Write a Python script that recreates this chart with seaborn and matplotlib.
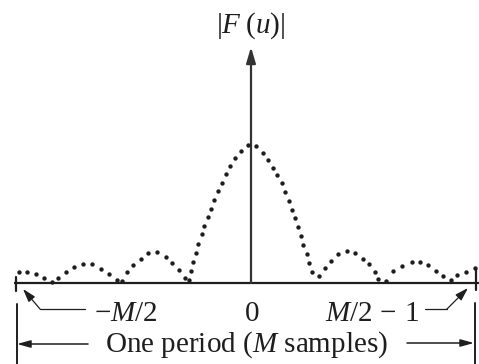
import matplotlib
matplotlib.use("Agg")
import matplotlib.pyplot as plt
import seaborn as sns
import pandas as pd

# Samples of |F(u)| (u relative to the vertical axis)
u = [-232, -224, -215, -207, -199, -193, -185, -177, -168, -159,
     -150, -142, -134, -129, -124, -118, -110, -103, -94, -85,
     -79, -72, -66, -62, -60, -58, -55, -53, -49, -47,
     -43, -40, -37, -33, -29, -25, -21, -16, -10, -3,
     5, 12, 17, 22, 26, 31, 34, 38, 41, 44,
     47, 50, 52, 56, 58, 61, 68, 74, 80, 87,
     96, 104, 112, 118, 124, 127, 135, 142, 151, 161,
     169, 177, 185, 192, 200, 206, 215, 224]
magnitude = [11, 11, 9, 5, 1, 5, 11, 16, 19, 19,
             14, 9, 3, 2, 11, 18, 24, 30, 31, 26,
             20, 13, 5, 3, 12, 21, 30, 39, 49, 57,
             66, 74, 83, 92, 100, 109, 117, 125, 132, 138,
             137, 130, 123, 115, 108, 100, 91, 82, 73, 65,
             56, 47, 38, 29, 20, 11, 7, 15, 22, 29,
             32, 30, 24, 19, 11, 4, 2, 12, 17, 21,
             21, 18, 12, 7, 3, 8, 11, 15]

tick_labels = [r"$-M/2$", "0", r"$M/2\,-\,1$"]
tick_pos = [-125, 1, 121]
y_label = r"$|F\;(u)|$"
period_label = r"One period ($M$ samples)"

sns.set_theme(style="white")
plt.rcParams["font.family"] = ["Liberation Serif", "DejaVu Serif"]
plt.rcParams["mathtext.fontset"] = "custom"
plt.rcParams["mathtext.rm"] = "Liberation Serif"
plt.rcParams["mathtext.it"] = "Liberation Serif:italic"
plt.rcParams["mathtext.bf"] = "Liberation Serif:bold"

df = pd.DataFrame({"u": u, "mag": magnitude})

fig = plt.figure(figsize=(4.79, 3.64), dpi=100)
ax = fig.add_axes([0, 0, 1, 1])
ax.set_xlim(-251, 228)
ax.set_ylim(-81, 283)
ax.axis("off")

ink = "#1e1e1e"
fs = 21

# horizontal axis with end ticks
ax.plot([-237, 228], [0, 0], color=ink, lw=1.6, solid_capstyle="butt")
ax.plot([-235, -235], [-8, 6], color=ink, lw=1.6)
ax.plot([225, 225], [-7, 15], color=ink, lw=1.6)

# vertical axis with arrow
ax.annotate("", xy=(0, 236), xytext=(0, 0),
            arrowprops=dict(arrowstyle="-|>,head_length=0.95,head_width=0.28",
                            color="#333333", lw=1.6, shrinkA=0, shrinkB=0,
                            mutation_scale=10))
ax.text(0, 257, y_label, ha="center", va="center", fontsize=fs, color=ink)

# dotted |F(u)|
sns.scatterplot(data=df, x="u", y="mag", ax=ax, marker="o", s=10,
                color=ink, linewidth=0, legend=False, zorder=3)

# labels below the axis
for pos, lab in zip(tick_pos, tick_labels):
    ax.text(pos, -38, lab, ha="center", va="baseline", fontsize=fs, color=ink)

# leader arrows to the ends
ax.plot([-166, -211], [-26, -26], color=ink, lw=0.9)
ax.annotate("", xy=(-228, -6), xytext=(-211, -26),
            arrowprops=dict(arrowstyle="-|>,head_length=0.8,head_width=0.25",
                            color=ink, lw=0.9, shrinkA=0, shrinkB=0,
                            mutation_scale=10))
ax.plot([174, 196], [-26, -26], color=ink, lw=0.9)
ax.annotate("", xy=(217, -5), xytext=(196, -26),
            arrowprops=dict(arrowstyle="-|>,head_length=0.8,head_width=0.25",
                            color=ink, lw=0.9, shrinkA=0, shrinkB=0,
                            mutation_scale=10))

# period bracket
ax.plot([-234, -234], [-21, -81], color=ink, lw=1.4)
ax.plot([224, 224], [-20, -81], color=ink, lw=1.4)
ax.annotate("", xy=(-234, -61), xytext=(-163, -61),
            arrowprops=dict(arrowstyle="-|>,head_length=0.8,head_width=0.22",
                            color=ink, lw=1.1, shrinkA=0, shrinkB=0,
                            mutation_scale=10))
ax.annotate("", xy=(223, -60), xytext=(156, -60),
            arrowprops=dict(arrowstyle="-|>,head_length=0.8,head_width=0.22",
                            color=ink, lw=1.1, shrinkA=0, shrinkB=0,
                            mutation_scale=10))
ax.text(-4, -69, period_label, ha="center", va="baseline", fontsize=fs, color=ink)

fig.savefig("out.png", dpi=100)
